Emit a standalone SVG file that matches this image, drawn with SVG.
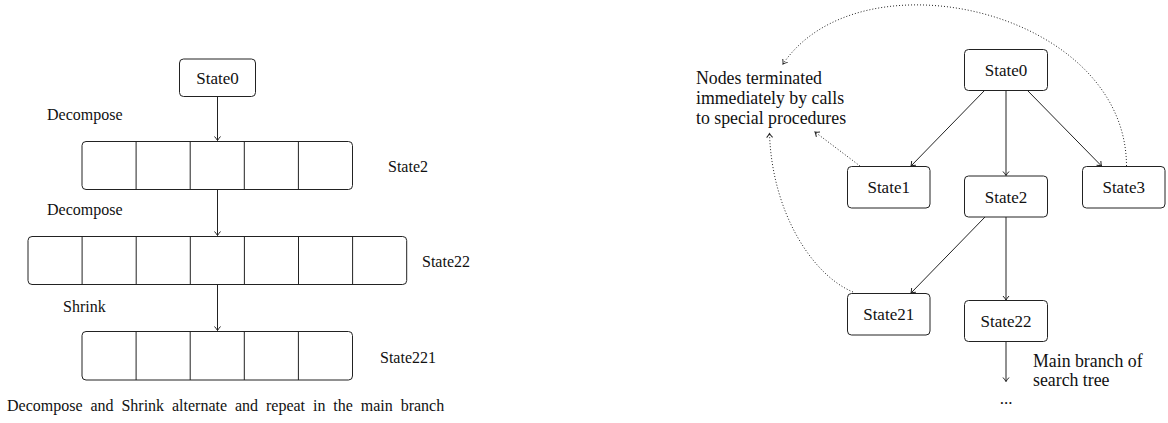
<svg xmlns="http://www.w3.org/2000/svg" width="1168" height="423" viewBox="0 0 1168 423" font-family="'Liberation Serif', 'Times New Roman', Times, 'DejaVu Serif', serif">
<style>
text{font-family:'Liberation Serif','Times New Roman',Times,'DejaVu Serif',serif;fill:#111}
.lbl{font-size:16px}
.note{font-size:17.8px}
.nt{font-size:17px;text-anchor:middle}
.box{fill:#fff;stroke:#222;stroke-width:1}
.cell{stroke:#222;stroke-width:1}
.edge{fill:none;stroke:#222;stroke-width:1}
.dot{fill:none;stroke:#222;stroke-width:1;stroke-dasharray:1 2}
</style>
<defs>
<marker id="ah" markerUnits="userSpaceOnUse" markerWidth="10" markerHeight="10" refX="0" refY="0" viewBox="-6 -5 8 10" orient="auto" overflow="visible">
<path d="M-4,-3 Q-1.5,-0.8 0,0 Q-1.5,0.8 -4,3" fill="none" stroke="#222" stroke-width="1"/>
</marker>
</defs>
<g id="connectors">
<line class="edge" x1="217.5" y1="96.5" x2="217.5" y2="140.5" marker-end="url(#ah)"/>
<line class="edge" x1="217.5" y1="189.5" x2="217.5" y2="235.5" marker-end="url(#ah)"/>
<line class="edge" x1="217.5" y1="284.5" x2="217.5" y2="330.5" marker-end="url(#ah)"/>
<line class="edge" x1="984.5" y1="90.5" x2="911" y2="166" marker-end="url(#ah)"/>
<line class="edge" x1="1006" y1="90.5" x2="1006" y2="175.5" marker-end="url(#ah)"/>
<line class="edge" x1="1027.5" y1="90.5" x2="1101.5" y2="166" marker-end="url(#ah)"/>
<line class="edge" x1="985" y1="217" x2="911" y2="293" marker-end="url(#ah)"/>
<line class="edge" x1="1006" y1="217" x2="1006" y2="300" marker-end="url(#ah)"/>
<line class="edge" x1="1006" y1="341.5" x2="1006" y2="381.5" marker-end="url(#ah)"/>
<path class="dot" d="M860,166 L815,132" marker-end="url(#ah)"/>
<path class="dot" d="M853,292 C812,275 772,212 769.5,133.5" marker-end="url(#ah)"/>
<path class="dot" d="M1126.5,166 C1126,10 860,-50 783,64" marker-end="url(#ah)"/>
</g>
<g id="left-state0">
<rect class="box" x="179.5" y="59" width="76" height="37.5" rx="4"/>
<text class="nt" x="217.5" y="83.5" font-size="16">State0</text>
</g>
<g id="left-state2">
<rect class="box" x="82" y="141.5" width="270.5" height="48" rx="4"/>
<path class="cell" d="M136.1,141.5V189.5M190.2,141.5V189.5M244.3,141.5V189.5M298.4,141.5V189.5"/>
<text class="lbl" x="388" y="171.5">State2</text>
</g>
<g id="left-state22">
<rect class="box" x="28" y="236.5" width="378.7" height="48" rx="4"/>
<path class="cell" d="M82.1,236.5V284.5M136.2,236.5V284.5M190.3,236.5V284.5M244.4,236.5V284.5M298.5,236.5V284.5M352.6,236.5V284.5"/>
<text class="lbl" x="422" y="267">State22</text>
</g>
<g id="left-state221">
<rect class="box" x="82" y="331.5" width="270.5" height="48.5" rx="4"/>
<path class="cell" d="M136.1,331.5V380M190.2,331.5V380M244.3,331.5V380M298.4,331.5V380"/>
<text class="lbl" x="380" y="363">State221</text>
</g>
<g id="left-labels">
<text class="lbl" x="47" y="120">Decompose</text>
<text class="lbl" x="47" y="215">Decompose</text>
<text class="lbl" x="63" y="312">Shrink</text>
<text class="lbl" x="7" y="411" word-spacing="3.9">Decompose and Shrink alternate and repeat in the main branch</text>
</g>
<g id="r-state0">
<rect class="box" x="964.5" y="49.5" width="83" height="41" rx="4"/>
<text class="nt" x="1006" y="76">State0</text>
</g>
<g id="r-state1">
<rect class="box" x="847.5" y="166.5" width="82.5" height="41.5" rx="4"/>
<text class="nt" x="888.7" y="193">State1</text>
</g>
<g id="r-state2">
<rect class="box" x="964.5" y="176" width="83" height="41" rx="4"/>
<text class="nt" x="1006" y="202.5">State2</text>
</g>
<g id="r-state3">
<rect class="box" x="1082.5" y="166.5" width="82.5" height="41.5" rx="4"/>
<text class="nt" x="1123.7" y="193">State3</text>
</g>
<g id="r-state21">
<rect class="box" x="847.5" y="293.5" width="82.5" height="41.5" rx="4"/>
<text class="nt" x="888.7" y="320">State21</text>
</g>
<g id="r-state22">
<rect class="box" x="964.5" y="300.5" width="83" height="41" rx="4"/>
<text class="nt" x="1006" y="327">State22</text>
</g>
<g id="r-notes">
<text class="note" x="696" y="83.5">Nodes terminated</text>
<text class="note" x="696" y="103.5">immediately by calls</text>
<text class="note" x="696" y="123.5">to special procedures</text>
<text class="note" x="1033" y="366.5" font-size="17.5">Main branch of</text>
<text class="note" x="1033" y="386" font-size="17.5">search tree</text>
<text class="nt" x="1006" y="404">...</text>
</g>
</svg>
